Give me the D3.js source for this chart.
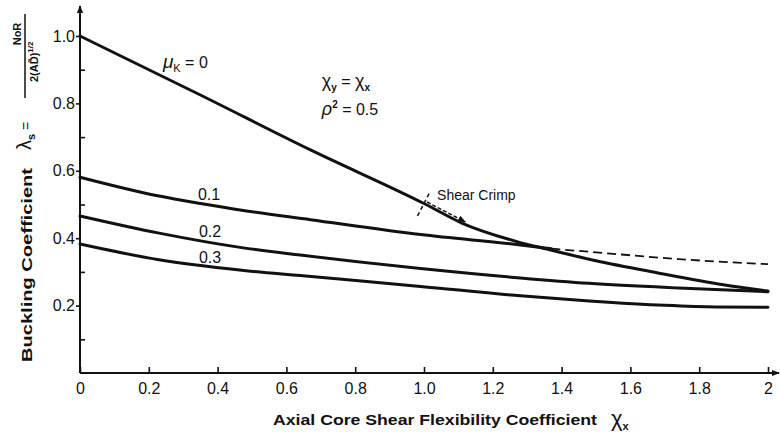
<!DOCTYPE html>
<html>
<head>
<meta charset="utf-8">
<script src="https://cdn.jsdelivr.net/npm/d3@7"></script>
<style>
  html, body { margin: 0; padding: 0; background: #fff; }
  svg { display: block; }
  text { fill: #111; }
</style>
</head>
<body>
<svg id="chart" width="780" height="434"></svg>
<script>
// Buckling coefficient vs. axial core shear flexibility coefficient
const xTicks = [0, 0.2, 0.4, 0.6, 0.8, 1.0, 1.2, 1.4, 1.6, 1.8, 2];
const yTicks = [0.2, 0.4, 0.6, 0.8, 1.0];
const yMinorTicks = [0.1, 0.3, 0.5, 0.7, 0.9];

// mu_K = 0 (shear crimp governs beyond the crossing with mu_K = 0.1)
const mu0X = [0, 0.35, 0.67, 1.0, 1.11, 1.27, 1.36, 1.5, 1.68, 1.87, 2.0];
const mu0Y = [1.0, 0.825, 0.662, 0.503, 0.445, 0.390, 0.367, 0.333, 0.297, 0.262, 0.243];

// mu_K = 0.1, solid up to the crossing, dashed continuation afterwards
const mu1X = [0, 0.23, 0.35, 0.47, 0.67, 0.99, 1.28, 1.37];
const mu1Y = [0.581, 0.525, 0.503, 0.483, 0.455, 0.411, 0.380, 0.369];
const mu1DashX = [1.37, 1.5, 1.74, 2.0];
const mu1DashY = [0.369, 0.358, 0.338, 0.323];

// mu_K = 0.2
const mu2X = [0, 0.23, 0.47, 0.64, 0.99, 1.28, 1.48, 1.74, 2.0];
const mu2Y = [0.466, 0.415, 0.372, 0.350, 0.310, 0.282, 0.266, 0.252, 0.241];

// mu_K = 0.3
const mu3X = [0, 0.23, 0.47, 0.64, 0.99, 1.28, 1.48, 1.7, 1.85, 2.0];
const mu3Y = [0.383, 0.336, 0.305, 0.289, 0.257, 0.229, 0.214, 0.201, 0.196, 0.195];

const curveLabels = ["0.1", "0.2", "0.3"];
const curveLabelX = [0.375, 0.378, 0.378];
const curveLabelY = [0.513, 0.404, 0.326];

const crimpX = 1.0;

const svg = d3.select("#chart");
const font = "'Liberation Sans', Arial, sans-serif";

const x = d3.scaleLinear().domain([0, 2]).range([80, 768]);
const y = d3.scaleLinear().domain([0, 1]).range([373, 36]);

// arrowhead marker
const defs = svg.append("defs");
defs.append("marker").attr("id", "arrow").attr("viewBox", "0 0 10 10")
  .attr("refX", 9).attr("refY", 5).attr("markerWidth", 8).attr("markerHeight", 8)
  .attr("orient", "auto-start-reverse").attr("markerUnits", "userSpaceOnUse")
  .append("path").attr("d", "M0,1 L10,5 L0,9 Z").attr("fill", "#111");

// axis lines with arrows
svg.append("line").attr("x1", x(0)).attr("y1", y(0)).attr("x2", 779).attr("y2", y(0))
  .attr("stroke", "#111").attr("stroke-width", 2).attr("marker-end", "url(#arrow)");
svg.append("line").attr("x1", x(0)).attr("y1", y(0)).attr("x2", x(0)).attr("y2", 6)
  .attr("stroke", "#111").attr("stroke-width", 2).attr("marker-end", "url(#arrow)");

const fmt = v => (v === 0 || v === 2) ? d3.format("d")(v) : d3.format(".1f")(v);

const gx = svg.append("g").attr("transform", `translate(0,${y(0)})`)
  .call(d3.axisBottom(x).tickValues(xTicks).tickFormat(fmt).tickSizeInner(-6).tickSizeOuter(0).tickPadding(10));
gx.select(".domain").remove();
gx.selectAll(".tick line").attr("stroke", "#111").attr("stroke-width", 1.6);
gx.selectAll("text").attr("font-family", font).attr("font-size", 16).attr("fill", "#111");

const gy = svg.append("g").attr("transform", `translate(${x(0)},0)`)
  .call(d3.axisLeft(y).tickValues(yTicks).tickFormat(d3.format(".1f")).tickSizeInner(4).tickSizeOuter(0).tickPadding(1));
gy.select(".domain").remove();
gy.selectAll(".tick line").attr("stroke", "#111").attr("stroke-width", 1.6);
gy.selectAll("text").attr("font-family", font).attr("font-size", 16).attr("fill", "#111");

const gyMinor = svg.append("g").attr("transform", `translate(${x(0)},0)`)
  .call(d3.axisLeft(y).tickValues(yMinorTicks).tickFormat("").tickSizeInner(-5).tickSizeOuter(0));
gyMinor.select(".domain").remove();
gyMinor.selectAll(".tick line").attr("stroke", "#111").attr("stroke-width", 1.6);

// curves
const line = d3.line().x(d => x(d[0])).y(d => y(d[1])).curve(d3.curveMonotoneX);
const pts = (xs, ys) => xs.map((v, i) => [v, ys[i]]);

[[mu0X, mu0Y], [mu1X, mu1Y], [mu2X, mu2Y], [mu3X, mu3Y]].forEach(([xs, ys]) => {
  svg.append("path").datum(pts(xs, ys)).attr("d", line)
    .attr("fill", "none").attr("stroke", "#111").attr("stroke-width", 3)
    .attr("stroke-linecap", "round").attr("stroke-linejoin", "round");
});
svg.append("path").datum(pts(mu1DashX, mu1DashY)).attr("d", line)
  .attr("fill", "none").attr("stroke", "#111").attr("stroke-width", 1.8)
  .attr("stroke-dasharray", "9,5");

// shear crimp marker: dashed cross mark and arrow along the mu_K = 0 curve
const cy0 = d3.scaleLinear().domain(mu0X).range(mu0Y)(crimpX);
const px = x(crimpX), py = y(cy0);
const slopeAngle = Math.atan2(y(0.445) - y(cy0), x(1.11) - x(crimpX));
const nx = Math.sin(slopeAngle), ny = -Math.cos(slopeAngle);
svg.append("line")
  .attr("x1", px - nx * 14).attr("y1", py - ny * 14)
  .attr("x2", px + nx * 12).attr("y2", py + ny * 12)
  .attr("stroke", "#111").attr("stroke-width", 1.5).attr("stroke-dasharray", "4,3");
const ax1 = x(crimpX) + 3, ax2 = x(1.12);
const ay1 = py + (ax1 - px) * Math.tan(slopeAngle) - 3;
const ay2 = py + (ax2 - px) * Math.tan(slopeAngle) - 3;
svg.append("line").attr("x1", ax1).attr("y1", ay1).attr("x2", ax2).attr("y2", ay2)
  .attr("stroke", "#111").attr("stroke-width", 1.5).attr("stroke-dasharray", "4,2")
  .attr("marker-end", "url(#arrow)");
svg.append("text").attr("x", x(1.038)).attr("y", y(0.513))
  .attr("font-family", font).attr("font-size", 14).text("Shear Crimp");

// curve labels
curveLabels.forEach((t, i) => {
  svg.append("text").attr("x", x(curveLabelX[i])).attr("y", y(curveLabelY[i]))
    .attr("text-anchor", "middle").attr("font-family", font).attr("font-size", 16).text(t);
});
const muLab = svg.append("text").attr("x", x(0.241)).attr("y", y(0.905))
  .attr("font-family", font).attr("font-size", 16);
muLab.append("tspan").attr("font-style", "italic").attr("font-size", 19).text("μ");
muLab.append("tspan").attr("font-size", 11).attr("dy", 4).text("K");
muLab.append("tspan").attr("dy", -4).text(" = 0");

const chiLab = svg.append("text").attr("x", x(0.703)).attr("y", y(0.849))
  .attr("font-family", font).attr("font-size", 16);
chiLab.append("tspan").attr("font-size", 18).text("χ");
chiLab.append("tspan").attr("font-size", 10).attr("dy", 4).attr("font-weight", "bold").text("y");
chiLab.append("tspan").attr("dy", -4).text(" = ");
chiLab.append("tspan").attr("font-size", 18).text("χ");
chiLab.append("tspan").attr("font-size", 10).attr("dy", 4).attr("font-weight", "bold").text("x");

const rhoLab = svg.append("text").attr("x", x(0.703)).attr("y", y(0.766))
  .attr("font-family", font).attr("font-size", 16);
rhoLab.append("tspan").attr("font-style", "italic").attr("font-size", 18).text("ρ");
rhoLab.append("tspan").attr("font-size", 10).attr("dy", -7).attr("font-weight", "bold").text("2");
rhoLab.append("tspan").attr("dy", 7).text(" = 0.5");

// x-axis title
const xt = svg.append("text").attr("x", 273).attr("y", 425)
  .attr("font-family", font).attr("font-weight", "bold").attr("font-size", 15);
xt.append("tspan").attr("textLength", 324).attr("lengthAdjust", "spacingAndGlyphs")
  .text("Axial Core Shear Flexibility Coefficient");
svg.append("text").attr("x", 611).attr("y", 426).attr("font-family", font)
  .attr("font-size", 22).text("χ")
  .append("tspan").attr("font-size", 11).attr("font-weight", "bold").attr("dy", 4).text("x");

// y-axis title (rotated)
const yt = svg.append("g").attr("transform", "rotate(-90)");
yt.append("text").attr("x", -362).attr("y", 32)
  .attr("font-family", font).attr("font-weight", "bold").attr("font-size", 15)
  .attr("textLength", 194).attr("lengthAdjust", "spacingAndGlyphs")
  .text("Buckling Coefficient");
const lam = yt.append("text").attr("x", -150).attr("y", 31)
  .attr("font-family", font).attr("font-size", 20);
lam.append("tspan").text("λ");
lam.append("tspan").attr("font-size", 11).attr("font-weight", "bold").attr("dy", 4).text("s");
lam.append("tspan").attr("font-size", 14).attr("dy", -4).text(" =");
// fraction N₀R / 2(AD̃)^1/2
yt.append("line").attr("x1", -98).attr("x2", -14).attr("y1", 25).attr("y2", 25)
  .attr("stroke", "#111").attr("stroke-width", 1.5);
yt.append("text").attr("x", -34).attr("y", 21).attr("text-anchor", "middle")
  .attr("font-family", font).attr("font-weight", "bold").attr("font-size", 11).text("NoR");
const den = yt.append("text").attr("x", -82).attr("y", 38)
  .attr("font-family", font).attr("font-weight", "bold").attr("font-size", 11);
den.append("tspan").text("2(AD\u0303)");
den.append("tspan").attr("font-size", 8).attr("dy", -5).text("1/2");
</script>
</body>
</html>
